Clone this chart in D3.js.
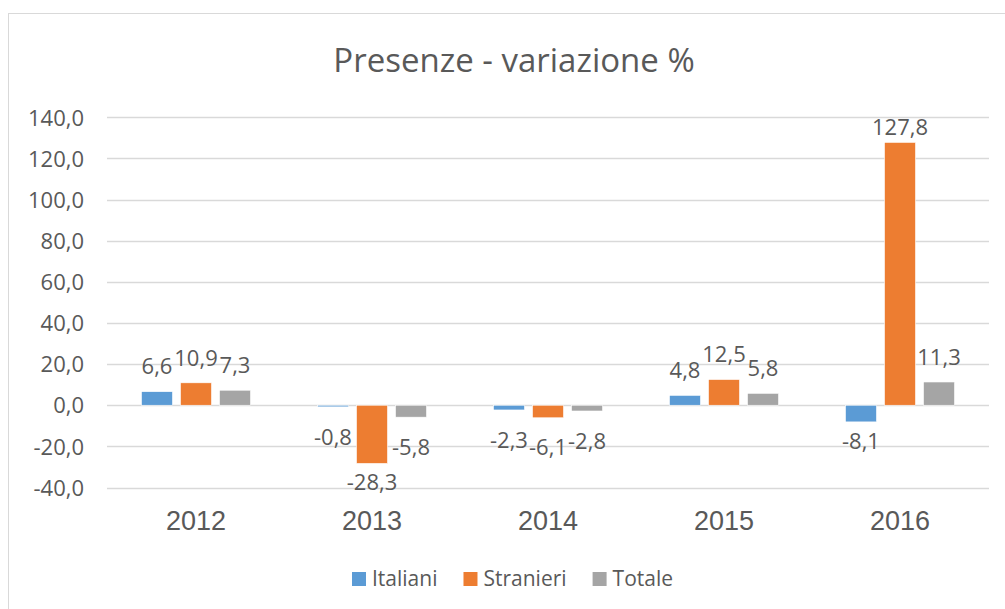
<!DOCTYPE html>
<html>
<head>
<meta charset="utf-8">
<script src="https://cdn.jsdelivr.net/npm/d3@7/dist/d3.min.js"></script>
<style>
  body { margin: 0; background: #fff; }
  text { font-family: "Open Sans", sans-serif; fill: #595959; }
</style>
</head>
<body>
<div id="chart"></div>
<script>
const years = ['2012', '2013', '2014', '2015', '2016'];
const seriesNames = ['Italiani', 'Stranieri', 'Totale'];
const italiani = [6.6, -0.8, -2.3, 4.8, -8.1];
const stranieri = [10.9, -28.3, -6.1, 12.5, 127.8];
const totale = [7.3, -5.8, -2.8, 5.8, 11.3];
const yTicks = [-40, -20, 0, 20, 40, 60, 80, 100, 120, 140];
const colors = ['#5b9bd5', '#ed7d31', '#a5a5a5'];

const w = 1005, h = 609;
const values = [italiani, stranieri, totale];
const fmt = v => v.toFixed(1).replace('.', ',');

const svg = d3.select('#chart').append('svg')
    .attr('width', w)
    .attr('height', h);

// chart frame (only top/left edges fall inside the window)
svg.append('rect')
    .attr('x', 8.5).attr('y', 13.5)
    .attr('width', w + 20).attr('height', h + 20)
    .attr('fill', 'none')
    .attr('stroke', '#d9d9d9');

svg.append('text')
    .attr('x', 514).attr('y', 72)
    .attr('text-anchor', 'middle')
    .style('font-size', '33px')
    .text('Presenze - variazione %');

const x0 = d3.scaleBand()
    .domain(years)
    .range([108, 988])
    .paddingInner(0.335)
    .paddingOuter(0.1675);

const x1 = d3.scaleBand()
    .domain(seriesNames)
    .range([0, x0.bandwidth()])
    .paddingInner(0.205)
    .paddingOuter(0.1025);

const y = d3.scaleLinear()
    .domain([-40, 140])
    .range([487.5, 117.3]);

// gridlines
svg.append('g')
    .selectAll('line')
    .data(yTicks)
    .enter().append('line')
    .attr('x1', 107).attr('x2', 989)
    .attr('y1', d => Math.round(y(d)) + 0.5)
    .attr('y2', d => Math.round(y(d)) + 0.5)
    .attr('stroke', '#d9d9d9')
    .attr('stroke-width', 1.3);

const yAxis = svg.append('g')
    .attr('transform', 'translate(84,0)')
    .call(d3.axisLeft(y).tickValues(yTicks).tickSize(0).tickPadding(0).tickFormat(fmt));
yAxis.select('.domain').remove();
yAxis.selectAll('text')
    .attr('dy', '0.35em')
    .style('font-size', '22px')
    .style('fill', '#595959')
    .style('font-family', '"Open Sans", sans-serif');

const xAxis = svg.append('g')
    .attr('transform', 'translate(0,498)')
    .call(d3.axisBottom(x0).tickSize(0).tickPadding(0));
xAxis.select('.domain').remove();
xAxis.selectAll('text')
    .attr('dy', '1.2em')
    .style('font-size', '27px')
    .style('fill', '#595959')
    .style('font-family', '"Liberation Sans", Arial, sans-serif');

const points = [];
years.forEach((yr, i) => {
    seriesNames.forEach((s, j) => {
        points.push({ year: yr, series: s, value: values[j][i], color: colors[j] });
    });
});

const bars = svg.append('g')
    .selectAll('g.bar')
    .data(points)
    .enter().append('g')
    .attr('class', 'bar');

bars.append('rect')
    .attr('x', d => x0(d.year) + x1(d.series))
    .attr('width', x1.bandwidth())
    .attr('y', d => Math.min(y(d.value), y(0)))
    .attr('height', d => Math.max(Math.abs(y(d.value) - y(0)), 1.5))
    .attr('fill', d => d.color)
    .attr('stroke', '#fff')
    .attr('stroke-width', 0.6);

bars.append('text')
    .attr('x', d => x0(d.year) + x1(d.series) + x1.bandwidth() / 2)
    .attr('y', d => {
        if (d.value >= 0) return y(d.value) - (d.value > 50 ? 15 : 25);
        return y(d.value) + (d.value < -8 ? 19 : 30);
    })
    .attr('dy', '0.35em')
    .attr('text-anchor', 'middle')
    .style('font-size', '22px')
    .text(d => fmt(d.value));

// legend
const legend = svg.append('g').attr('transform', 'translate(0,579)');
let lx = 352;
seriesNames.forEach((s, i) => {
    const item = legend.append('g').attr('transform', `translate(${lx},0)`);
    item.append('rect')
        .attr('x', 0).attr('y', -7)
        .attr('width', 14).attr('height', 14)
        .attr('fill', colors[i]);
    const t = item.append('text')
        .attr('x', 20)
        .attr('dy', '0.35em')
        .style('font-size', '21px')
        .text(s);
    lx += 20 + t.node().getComputedTextLength() + 26;
});
</script>
</body>
</html>
